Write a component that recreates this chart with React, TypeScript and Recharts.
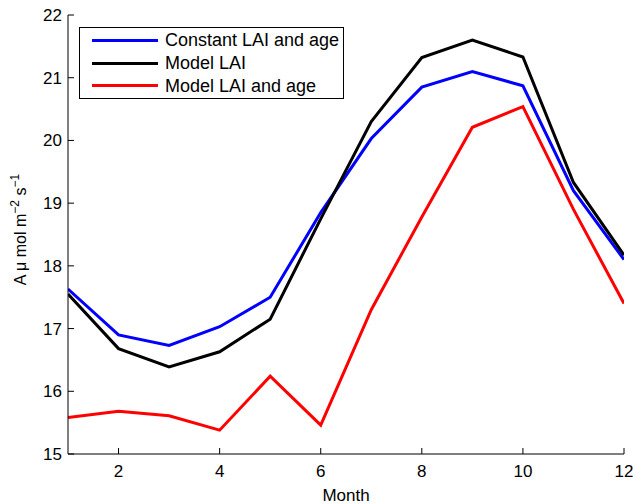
import { LineChart, Line, XAxis, YAxis, Legend } from 'recharts'

const months = [1, 2, 3, 4, 5, 6, 7, 8, 9, 10, 11, 12]
const constantLaiAge = [17.63, 16.9, 16.73, 17.03, 17.5, 18.85, 20.03, 20.85, 21.1, 20.87, 19.2, 18.1]
const modelLai = [17.55, 16.68, 16.39, 16.63, 17.15, 18.75, 20.3, 21.32, 21.6, 21.33, 19.33, 18.17]
const modelLaiAge = [15.58, 15.68, 15.61, 15.38, 16.24, 15.46, 17.3, 18.78, 20.21, 20.54, 18.9, 17.4]

const xTicks = [2, 4, 6, 8, 10, 12]
const yTicks = [15, 16, 17, 18, 19, 20, 21, 22]

const series = [
  { key: 'constant', name: 'Constant LAI and age', color: '#0000ff' },
  { key: 'lai', name: 'Model LAI', color: '#000000' },
  { key: 'laiAge', name: 'Model LAI and age', color: '#ff0000' },
]

const data = months.map((m, i) => ({
  month: m,
  constant: constantLaiAge[i],
  lai: modelLai[i],
  laiAge: modelLaiAge[i],
}))

const FONT = '"Liberation Sans", Arial, sans-serif'
const TICK_LEN = 6

// eslint-disable-next-line @typescript-eslint/no-explicit-any
function BottomTick({ x, y, payload }: any) {
  const base = y - 11
  return (
    <g>
      <line x1={x} y1={base} x2={x} y2={base - TICK_LEN} stroke="#000" />
      <text x={x} y={y} dy="0.71em" textAnchor="middle" fontSize={17} fontFamily={FONT} fill="#000">
        {payload.value}
      </text>
    </g>
  )
}

// eslint-disable-next-line @typescript-eslint/no-explicit-any
function LeftTick({ x, y, payload }: any) {
  const base = x + 6
  return (
    <g>
      <line x1={base} y1={y} x2={base + TICK_LEN} y2={y} stroke="#000" />
      <text x={x} y={y} dy="0.355em" textAnchor="end" fontSize={17} fontFamily={FONT} fill="#000">
        {payload.value}
      </text>
    </g>
  )
}

// eslint-disable-next-line @typescript-eslint/no-explicit-any
function TopTick({ x, y }: any) {
  return <line x1={x} y1={y} x2={x} y2={y + TICK_LEN} stroke="#000" />
}

// eslint-disable-next-line @typescript-eslint/no-explicit-any
function RightTick({ x, y }: any) {
  return <line x1={x} y1={y} x2={x - TICK_LEN} y2={y} stroke="#000" />
}

// eslint-disable-next-line @typescript-eslint/no-explicit-any
function YLabel({ viewBox }: any) {
  const cx = 26
  const cy = viewBox.y + viewBox.height / 2 - 5
  return (
    <text
      x={cx}
      y={cy}
      transform={`rotate(-90 ${cx} ${cy})`}
      textAnchor="middle"
      fontSize={16}
      fontFamily={FONT}
      fill="#000"
    >
      A μ mol m
      <tspan dy={-7} fontSize={12}>−2</tspan>
      <tspan dy={7}> s</tspan>
      <tspan dy={-7} fontSize={12}>−1</tspan>
    </text>
  )
}

// eslint-disable-next-line @typescript-eslint/no-explicit-any
function XLabel({ viewBox }: any) {
  return (
    <text
      x={viewBox.x + viewBox.width / 2}
      y={501}
      textAnchor="middle"
      fontSize={17}
      fontFamily={FONT}
      fill="#000"
    >
      Month
    </text>
  )
}

function LegendBox() {
  return (
    <div
      style={{
        border: '1px solid #000',
        background: '#fff',
        width: 265,
        height: 72,
        padding: '1px 0 0 0',
        boxSizing: 'border-box',
        fontFamily: FONT,
        fontSize: 18,
      }}
    >
      {series.map((s) => (
        <div key={s.key} style={{ display: 'flex', alignItems: 'center', height: 22.7 }}>
          <div style={{ width: 66, height: 3, background: s.color, marginLeft: 12, marginRight: 7 }} />
          <span style={{ lineHeight: '20px', color: '#000' }}>{s.name}</span>
        </div>
      ))}
    </div>
  )
}

export default function App() {
  return (
    <div style={{ position: 'absolute', left: 0, top: 0, background: '#fff' }}>
      <LineChart width={633} height={504} data={data} margin={{ top: 15, right: 9, bottom: 0, left: 0 }}>
        <XAxis
          dataKey="month"
          type="number"
          domain={[1, 12]}
          ticks={xTicks}
          allowDataOverflow
          height={50}
          tickSize={0}
          tickLine={false}
          tickMargin={11}
          tick={<BottomTick />}
          axisLine={{ stroke: '#000' }}
          label={<XLabel />}
        />
        <XAxis
          xAxisId="top"
          orientation="top"
          type="number"
          domain={[1, 12]}
          ticks={xTicks}
          allowDataOverflow
          height={0}
          tickSize={0}
          tickLine={false}
          tickMargin={0}
          tick={<TopTick />}
          axisLine={{ stroke: '#000' }}
        />
        <YAxis
          type="number"
          domain={[15, 22]}
          ticks={yTicks}
          allowDataOverflow
          width={68}
          tickSize={0}
          tickLine={false}
          tickMargin={6}
          tick={<LeftTick />}
          axisLine={{ stroke: '#000' }}
          label={<YLabel />}
        />
        <YAxis
          yAxisId="right"
          orientation="right"
          type="number"
          domain={[15, 22]}
          ticks={yTicks}
          allowDataOverflow
          width={0}
          tickSize={0}
          tickLine={false}
          tickMargin={0}
          tick={<RightTick />}
          axisLine={{ stroke: '#000' }}
        />
        <Legend
          layout="vertical"
          align="center"
          verticalAlign="middle"
          content={<LegendBox />}
          wrapperStyle={{ left: 79, top: 27, width: 'auto', height: 'auto' }}
        />
        {series.map((s) => (
          <Line
            key={s.key}
            dataKey={s.key}
            name={s.name}
            stroke={s.color}
            strokeWidth={3}
            dot={false}
            type="linear"
            isAnimationActive={false}
          />
        ))}
      </LineChart>
    </div>
  )
}
